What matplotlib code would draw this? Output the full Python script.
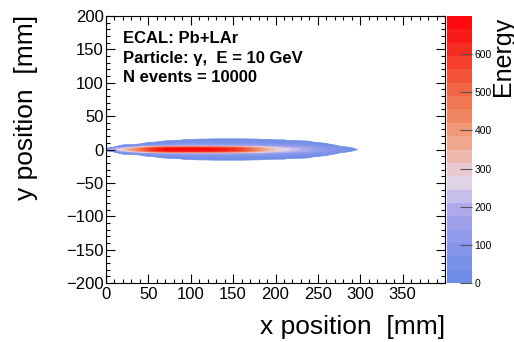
import numpy as np
import matplotlib
matplotlib.use("Agg")
import matplotlib.pyplot as plt
from matplotlib.colors import LinearSegmentedColormap, ListedColormap, BoundaryNorm
from matplotlib.cm import ScalarMappable
from matplotlib.ticker import MultipleLocator

plt.rcParams['font.family'] = ['Liberation Sans', 'DejaVu Sans']

# grid nodes of the energy map (mm)
x_nodes = [0, 5, 10, 20, 30, 40, 50, 60, 70, 80, 90, 100, 110, 120, 130, 140, 150,
           160, 170, 180, 190, 200, 210, 220, 230, 240, 250, 260, 270, 280, 290, 295, 300]
# upper half in y, the shower is symmetric around y = 0
y_nodes = [0, 1.5, 3, 5, 8, 11, 14, 17, 20]

# energy per x node, listed at y = 0, 1.5, 3, 5, 8, 11, 14, 17, 20
energy_cols = [
    [120, 8, 0, 0, 0, 0, 0, 0, 0],
    [160, 60, 0, 0, 0, 0, 0, 0, 0],
    [210, 150, 10, 0, 0, 0, 0, 0, 0],
    [300, 270, 110, 15, 0, 0, 0, 0, 0],
    [390, 370, 220, 40, 0, 0, 0, 0, 0],
    [480, 460, 330, 90, 6, 0, 0, 0, 0],
    [580, 560, 440, 130, 30, 0, 0, 0, 0],
    [640, 620, 500, 160, 50, 6, 0, 0, 0],
    [680, 660, 540, 180, 65, 15, 0, 0, 0],
    [700, 680, 560, 190, 75, 25, 0, 0, 0],
    [700, 680, 560, 195, 80, 35, 6, 0, 0],
    [700, 680, 560, 200, 85, 40, 8, 0, 0],
    [695, 675, 555, 200, 90, 42, 10, 0, 0],
    [685, 665, 545, 200, 90, 45, 12, 0, 0],
    [670, 650, 535, 195, 90, 45, 15, 0, 0],
    [650, 630, 520, 190, 90, 45, 15, 0, 0],
    [620, 600, 495, 185, 90, 45, 15, 0, 0],
    [580, 560, 460, 175, 85, 45, 15, 0, 0],
    [500, 485, 400, 165, 85, 42, 12, 0, 0],
    [430, 415, 345, 155, 80, 40, 10, 0, 0],
    [360, 350, 290, 145, 75, 35, 8, 0, 0],
    [310, 300, 250, 135, 70, 30, 6, 0, 0],
    [270, 262, 220, 125, 65, 28, 6, 0, 0],
    [240, 232, 195, 115, 58, 22, 0, 0, 0],
    [205, 198, 170, 100, 52, 18, 0, 0, 0],
    [170, 165, 140, 88, 42, 10, 0, 0, 0],
    [135, 130, 110, 70, 25, 0, 0, 0, 0],
    [105, 100, 85, 52, 8, 0, 0, 0, 0],
    [75, 72, 55, 12, 0, 0, 0, 0, 0],
    [50, 48, 25, 0, 0, 0, 0, 0, 0],
    [25, 18, 0, 0, 0, 0, 0, 0, 0],
    [8, 0, 0, 0, 0, 0, 0, 0, 0],
    [0, 0, 0, 0, 0, 0, 0, 0, 0],
]

z_max = 700
n_bands = 20

# palette anchors (value, rgb)
palette_vals = [0, 100, 200, 260, 300, 370, 450, 530, 600, 700]
palette_rgb = [(108, 140, 230), (135, 150, 235), (178, 172, 235), (222, 212, 235),
               (236, 200, 205), (240, 168, 140), (240, 130, 92), (242, 90, 60),
               (246, 52, 36), (255, 0, 10)]

info_lines = ["ECAL: Pb+LAr", "Particle: γ,  E = 10 GeV", "N events = 10000"]

# ---- build the mirrored grid
upper = np.array(energy_cols, dtype=float).T          # (ny, nx)
y_full = np.concatenate([-np.array(y_nodes[:0:-1]), y_nodes])
z_full = np.vstack([upper[:0:-1], upper])

cmap_smooth = LinearSegmentedColormap.from_list(
    "ecal", [(v / z_max, tuple(c / 255 for c in rgb)) for v, rgb in zip(palette_vals, palette_rgb)])
bounds = np.linspace(0, z_max, n_bands + 1)
band_colors = [cmap_smooth((b + z_max / n_bands / 2) / z_max) for b in bounds[:-1]]
levels = bounds.copy()
levels[0] = 5  # leave empty cells white

fig = plt.figure(figsize=(5.14, 3.42), dpi=100)
ax = fig.add_axes([106 / 514, 59 / 342, 339 / 514, 267 / 342])
cs = ax.contourf(x_nodes, y_full, z_full, levels=levels, colors=band_colors, antialiased=True)
cs.set_edgecolor('face')
cs.set_linewidth(0.5)

ax.set_xlim(0, 400)
ax.set_ylim(-200, 200)
ax.set_xticks(np.arange(0, 400, 50))
ax.set_yticks(np.arange(-200, 201, 50))
ax.xaxis.set_minor_locator(MultipleLocator(10))
ax.yaxis.set_minor_locator(MultipleLocator(10))
ax.tick_params(which='both', direction='in', top=True, right=True, labelsize=12, width=0.8)
ax.tick_params(which='major', length=6.5)
ax.tick_params(which='minor', length=3.2)
ax.tick_params(axis='x', pad=3)
ax.tick_params(axis='y', pad=1.5)
for s in ax.spines.values():
    s.set_linewidth(0.8)
    s.set_zorder(3)

# colour scale
cax = fig.add_axes([446.5 / 514, 59 / 342, 25 / 514, 267 / 342])
sm = ScalarMappable(norm=BoundaryNorm(bounds, n_bands), cmap=ListedColormap(band_colors))
cb = fig.colorbar(sm, cax=cax, ticks=np.arange(0, 601, 100))
cb.outline.set_visible(False)
cax.yaxis.set_ticks_position('right')
cax.tick_params(direction='in', length=9, width=0.8, color='#555555', labelsize=7.5, pad=2)
cax.minorticks_off()

# texts
for i, line in enumerate(info_lines):
    fig.text(123 / 514, 1 - (43 + 19.5 * i) / 342, line, fontsize=12, fontweight='bold',
             va='baseline', ha='left')

fig.text(445 / 514, 8 / 342, "x position  [mm]", fontsize=19, ha='right', va='baseline')
fig.text(33 / 514, 1 - 15 / 342, "y position  [mm]", fontsize=19, rotation=90,
         rotation_mode='anchor', ha='right', va='baseline')
fig.text(510 / 514, 1 - 17 / 342, "Energy", fontsize=18, rotation=90,
         rotation_mode='anchor', ha='right', va='baseline')

fig.savefig("out.png", dpi=100)
